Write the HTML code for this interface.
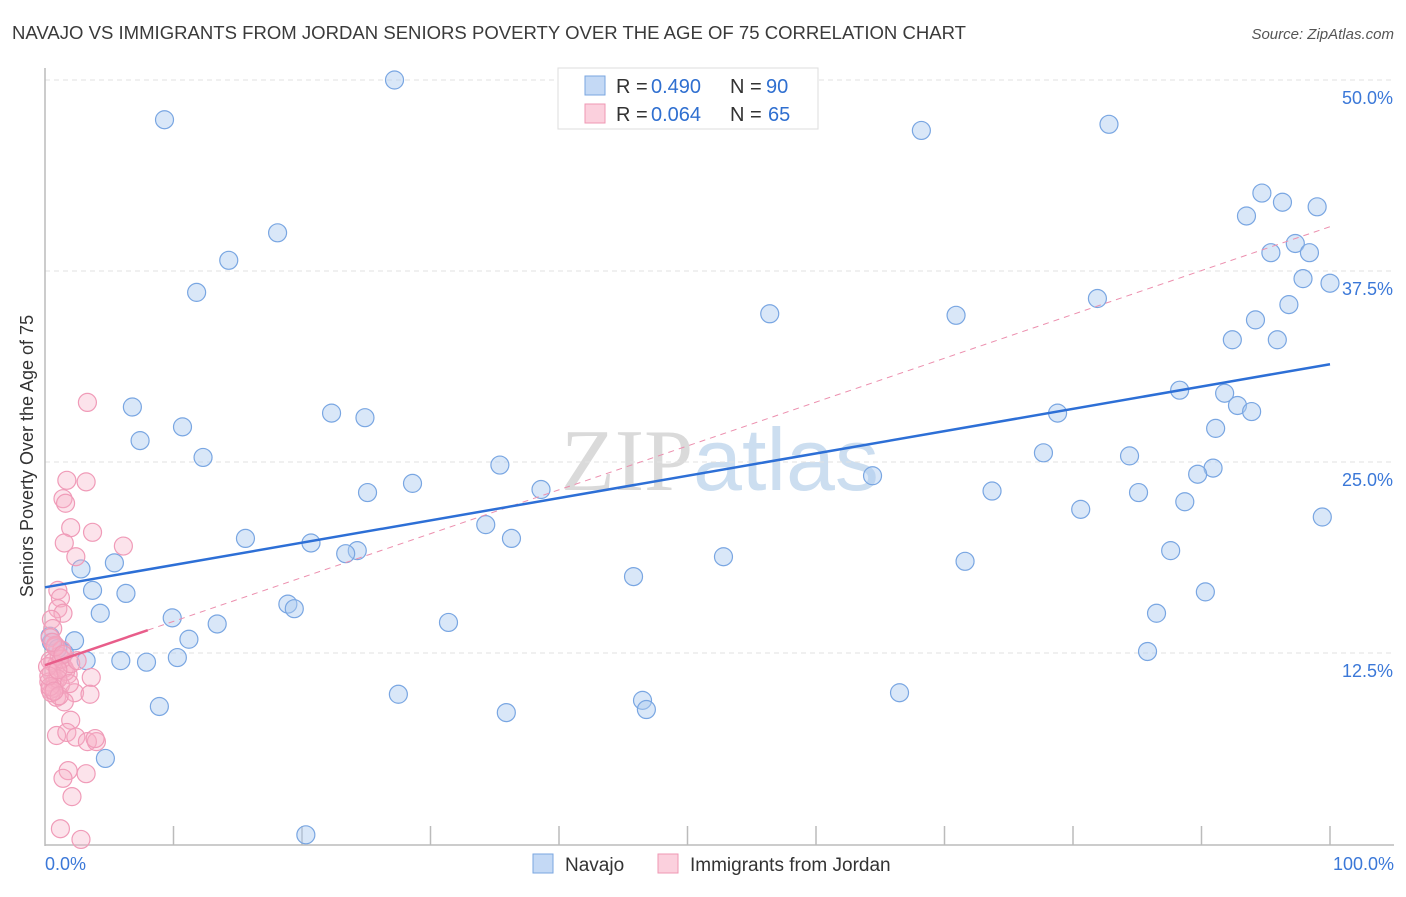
<!DOCTYPE html>
<html><head><meta charset="utf-8"><style>
body{margin:0;background:#fff;font-family:"Liberation Sans",sans-serif}
svg text{font-family:"Liberation Sans",sans-serif}
</style></head><body>
<svg id="chart" width="1406" height="892" xmlns="http://www.w3.org/2000/svg">
<text x="12" y="39" font-size="18" fill="#3a3a3a" textLength="954" lengthAdjust="spacingAndGlyphs">NAVAJO VS IMMIGRANTS FROM JORDAN SENIORS POVERTY OVER THE AGE OF 75 CORRELATION CHART</text>
<text x="1394" y="39" font-size="15" fill="#555" text-anchor="end" font-style="italic">Source: ZipAtlas.com</text>
<text x="720" y="490" font-size="88" text-anchor="middle" fill="#dde3ea"><tspan font-family="Liberation Serif" fill="#dadada">ZIP</tspan><tspan fill="#ccdef0">atlas</tspan></text>
<g id="grid"></g>
<g id="axes"></g>
<g id="pts"></g>
<g id="trend"></g>
<text transform="translate(33,456) rotate(-90)" font-size="18" fill="#333" text-anchor="middle">Seniors Poverty Over the Age of 75</text>
<g>
<rect x="558" y="68" width="260" height="61" fill="#fff" stroke="#ddd"/>
<rect x="585" y="76" width="20" height="19" fill="#c4d9f5" stroke="#7aa6e0"/>
<rect x="585" y="104" width="20" height="19" fill="#fbd0dd" stroke="#ef97b3"/>
<text font-size="20" fill="#333"><tspan x="616" y="93">R =</tspan><tspan x="651" y="93" fill="#2f6fd0">0.490</tspan><tspan x="730" y="93">N =</tspan><tspan x="766" y="93" fill="#2f6fd0">90</tspan></text>
<text font-size="20" fill="#333"><tspan x="616" y="121">R =</tspan><tspan x="651" y="121" fill="#2f6fd0">0.064</tspan><tspan x="730" y="121">N =</tspan><tspan x="768" y="121" fill="#2f6fd0">65</tspan></text>
</g>
<g>
<rect x="533" y="854" width="20" height="19" fill="#c4d9f5" stroke="#7aa6e0"/>
<text x="565" y="871" font-size="19" fill="#333">Navajo</text>
<rect x="658" y="854" width="20" height="19" fill="#fbd0dd" stroke="#ef97b3"/>
<text x="690" y="871" font-size="19" fill="#333">Immigrants from Jordan</text>
</g>
</svg>
<script>
const yTicks=[12.5,25,37.5,50];
const yTickLabels=["12.5%","25.0%","37.5%","50.0%"];
const xEndLabels=["0.0%","100.0%"];
const navajoX=[27.2,9.3,68.2,82.8,94.7,96.3,99.0,93.5,18.1,97.3,95.4,98.4,14.3,97.9,100,11.8,81.9,96.8,56.4,70.9,94.2,92.4,95.9,88.3,91.8,92.8,93.9,6.8,22.3,78.8,24.9,10.7,91.1,7.4,77.7,84.4,12.3,35.4,90.9,89.7,64.4,28.6,38.6,73.7,85.1,25.1,88.7,80.6,99.4,34.3,36.3,15.6,20.7,24.3,23.4,87.6,52.8,71.6,5.4,2.8,45.8,3.7,6.3,90.3,18.9,19.4,4.3,86.5,9.9,31.4,13.4,2.3,11.2,0.5,1.5,85.8,3.2,5.9,7.9,10.3,27.5,66.5,46.5,46.8,8.9,35.9,4.7,20.3,0.4,1.0];
const navajoY=[50.0,47.4,46.7,47.1,42.6,42.0,41.7,41.1,40.0,39.3,38.7,38.7,38.2,37.0,36.7,36.1,35.7,35.3,34.7,34.6,34.3,33.0,33.0,29.7,29.5,28.7,28.3,28.6,28.2,28.2,27.9,27.3,27.2,26.4,25.6,25.4,25.3,24.8,24.6,24.2,24.1,23.6,23.2,23.1,23.0,23.0,22.4,21.9,21.4,20.9,20.0,20.0,19.7,19.2,19.0,19.2,18.8,18.5,18.4,18.0,17.5,16.6,16.4,16.5,15.7,15.4,15.1,15.1,14.8,14.5,14.4,13.3,13.4,13.2,12.5,12.6,12.0,12.0,11.9,12.2,9.8,9.9,9.4,8.8,9.0,8.6,5.6,0.6,13.6,12.8];
const jordanX=[3.3,1.7,3.2,1.4,1.6,2.0,3.7,1.5,6.1,2.4,1.0,1.2,1.0,1.4,0.5,0.6,0.4,0.8,1.3,0.4,0.9,1.5,0.5,1.8,0.8,3.6,1.2,0.4,2.3,3.5,0.9,1.5,2.0,0.9,1.7,2.4,3.3,4.0,3.9,1.8,1.4,3.2,2.1,1.2,2.8,0.6,1.1,0.3,0.7,1.6,0.5,1.0,0.2,1.3,0.8,2.0,0.4,1.1,0.6,1.9,0.3,1.4,0.7,1.0,2.5];
const jordanY=[28.9,23.8,23.7,22.6,22.3,20.7,20.4,19.7,19.5,18.8,16.6,16.1,15.4,15.1,14.7,14.1,13.5,13.0,12.7,12.0,11.7,11.5,11.2,11.1,10.7,10.9,10.4,10.1,9.9,9.8,9.6,9.3,8.1,7.1,7.3,7.0,6.7,6.7,6.9,4.8,4.3,4.6,3.1,1.0,0.3,11.9,12.3,10.6,10.2,11.3,9.9,10.8,11.6,12.1,12.9,11.8,10.3,9.7,13.2,10.5,11.0,12.4,10.0,11.4,12.0];
const navajoTrend=[16.8,31.4];
const jordanTrend=[11.7,40.4];
const jordanSolidEnd=8;
const NS="http://www.w3.org/2000/svg";
const X=v=>45+v*12.85, Y=v=>844-v*15.28;
function mk(tag,attrs,parent){const e=document.createElementNS(NS,tag);for(const k in attrs)e.setAttribute(k,attrs[k]);parent.appendChild(e);return e;}
const grid=document.getElementById('grid'),axes=document.getElementById('axes'),pts=document.getElementById('pts'),tr=document.getElementById('trend');
yTicks.forEach((t,i)=>{
 const l=mk('line',{x1:45,x2:1394,y1:Y(t),y2:Y(t),stroke:'#e2e2e2','stroke-dasharray':'5,4'},grid);
 
 
 const tx=mk('text',{x:1393,y:Y(t)+24,'font-size':18,fill:'#3b78d8','text-anchor':'end'},grid);
 tx.textContent=yTickLabels[i];
 
 
});
const ya=mk('line',{x1:45,x2:45,y1:68,y2:846,stroke:'#bbb','stroke-width':1.5},axes);


const xa=mk('line',{x1:45,x2:1394,y1:845,y2:845,stroke:'#bbb','stroke-width':1.5},axes);


for(let i=1;i<=10;i++){const t=mk('line',{x1:X(i*10),x2:X(i*10),y1:826,y2:845,stroke:'#bbb','stroke-width':1.5},axes);
 
 }
[[0,'start',45],[100,'end',1394]].forEach((d,i)=>{const t=mk('text',{x:d[2],y:870,'font-size':18,fill:'#3b78d8','text-anchor':d[1]},axes);t.textContent=xEndLabels[i];
 
 });
navajoX.forEach((x,i)=>{const c=mk('circle',{cx:X(x),cy:Y(navajoY[i]),r:9,fill:'rgba(170,202,240,0.45)',stroke:'#79a6e2','stroke-width':1.2},pts);
 
 });
jordanX.forEach((x,i)=>{const c=mk('circle',{cx:X(x),cy:Y(jordanY[i]),r:9,fill:'rgba(246,175,198,0.35)',stroke:'#f09bb8','stroke-width':1.2},pts);
 
 });
const jy=x=>jordanTrend[0]+(jordanTrend[1]-jordanTrend[0])*x/100;
const jd=mk('line',{x1:X(jordanSolidEnd),y1:Y(jy(jordanSolidEnd)),x2:X(100),y2:Y(jy(100)),stroke:'#ec8fae','stroke-width':1,'stroke-dasharray':'6,5'},tr);


const js=mk('line',{x1:X(0),y1:Y(jy(0)),x2:X(jordanSolidEnd),y2:Y(jy(jordanSolidEnd)),stroke:'#e85d8a','stroke-width':2.5},tr);


const nl=mk('line',{x1:X(0),y1:Y(navajoTrend[0]),x2:X(100),y2:Y(navajoTrend[1]),stroke:'#2d6fd6','stroke-width':2.5},tr);


</script>
</body></html>
